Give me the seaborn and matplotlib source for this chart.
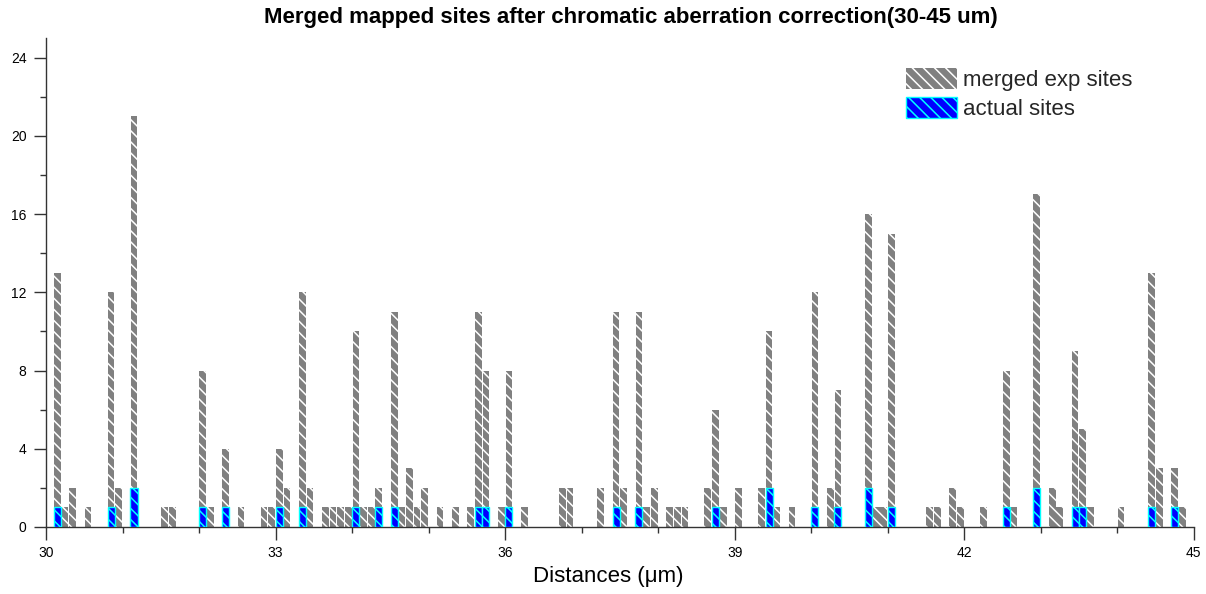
import numpy as np
import pandas as pd
import matplotlib
matplotlib.use("Agg")
import matplotlib.pyplot as plt
from matplotlib.patches import Patch
from matplotlib.ticker import MultipleLocator
import seaborn as sns

# ---- data (bin start in µm, bin width 0.1 µm) ----
bin_width = 0.1
merged_start = [30.1, 30.2, 30.3, 30.5, 30.8, 30.9, 31.1, 31.5, 31.6, 32.0,
                32.1, 32.3, 32.5, 32.8, 32.9, 33.0, 33.1, 33.3, 33.4, 33.6,
                33.7, 33.8, 33.9, 34.0, 34.1, 34.2, 34.3, 34.5, 34.6, 34.7,
                34.8, 34.9, 35.1, 35.3, 35.5, 35.6, 35.7, 35.9, 36.0, 36.2,
                36.7, 36.8, 37.2, 37.4, 37.5, 37.7, 37.8, 37.9, 38.1, 38.2,
                38.3, 38.6, 38.7, 38.8, 39.0, 39.3, 39.4, 39.5, 39.7, 40.0,
                40.2, 40.3, 40.7, 40.8, 40.9, 41.0, 41.5, 41.6, 41.8, 41.9,
                42.2, 42.5, 42.6, 42.9, 43.1, 43.2, 43.4, 43.5, 43.6, 44.0,
                44.4, 44.5, 44.7, 44.8]
merged_counts = [13, 1, 2, 1, 12, 2, 21, 1, 1, 8,
                 1, 4, 1, 1, 1, 4, 2, 12, 2, 1,
                 1, 1, 1, 10, 1, 1, 2, 11, 1, 3,
                 1, 2, 1, 1, 1, 11, 8, 1, 8, 1,
                 2, 2, 2, 11, 2, 11, 1, 2, 1, 1,
                 1, 2, 6, 1, 2, 2, 10, 1, 1, 12,
                 2, 7, 16, 1, 1, 15, 1, 1, 2, 1,
                 1, 8, 1, 17, 2, 1, 9, 5, 1, 1,
                 13, 3, 3, 1]
actual_start = [30.1, 30.8, 31.1, 32.0, 32.3, 33.0, 33.3, 34.0, 34.3, 34.5,
                35.6, 35.7, 36.0, 37.4, 37.7, 38.7, 39.4, 40.0, 40.3, 40.7,
                41.0, 42.5, 42.9, 43.4, 43.5, 44.4, 44.7]
actual_counts = [1, 1, 2, 1, 1, 1, 1, 1, 1, 1,
                 1, 1, 1, 1, 1, 1, 2, 1, 1, 2,
                 1, 1, 2, 1, 1, 1, 1]
x_major_ticks = [30, 33, 36, 39, 42, 45]
y_major_ticks = [0, 4, 8, 12, 16, 20, 24]
title_text = "Merged mapped sites after chromatic aberration correction(30-45 um)"
xlabel_text = "Distances (\u03bcm)"
legend_labels = ["merged exp sites", "actual sites"]

# ---- style ----
sns.set_style("ticks")
plt.rcParams['font.family'] = ['Liberation Sans', 'DejaVu Sans']
plt.rcParams['hatch.color'] = 'white'
plt.rcParams['hatch.linewidth'] = 1.1
HATCH = '\\\\\\'
GRAY = '#808080'
BLUE = '#0000FF'
CYAN = '#00FFFF'
AXC = '#333333'

W, H = 1206, 594
fig = plt.figure(figsize=(W / 100, H / 100), dpi=100)
x0, x1, ytop, ybot = 46, 1193.7, 38, 527
ax = fig.add_axes([x0 / W, 1 - ybot / H, (x1 - x0) / W, (ybot - ytop) / H])

merged_df = pd.DataFrame({"distance": np.round(np.array(merged_start) + bin_width / 2, 3),
                          "count": merged_counts})
actual_df = pd.DataFrame({"distance": np.round(np.array(actual_start) + bin_width / 2, 3),
                          "count": actual_counts})

sns.barplot(data=merged_df, x="distance", y="count", native_scale=True, width=0.88,
            color=GRAY, saturation=1, errorbar=None, ax=ax)
n_gray = len(ax.patches)
sns.barplot(data=actual_df, x="distance", y="count", native_scale=True, width=0.92,
            color=BLUE, saturation=1, errorbar=None, ax=ax)

for i, p in enumerate(ax.patches):
    p.set_hatch(HATCH)
    if i < n_gray:
        p.set_facecolor(GRAY)
        p.set_edgecolor('white')
        p.set_linewidth(0)
    else:
        p.set_facecolor(BLUE)
        p.set_edgecolor(CYAN)
        p.set_linewidth(1.0)
        p.set_zorder(3)

ax.set_xlim(30, 45)
ax.set_ylim(0, 25)
ax.set_xticks(x_major_ticks)
ax.set_xticklabels([str(t) for t in x_major_ticks])
ax.xaxis.set_minor_locator(MultipleLocator(1))
ax.set_yticks(y_major_ticks)
ax.set_yticklabels([str(t) for t in y_major_ticks])
ax.yaxis.set_minor_locator(MultipleLocator(2))
ax.tick_params(which='major', direction='out', length=9, width=1, color=AXC,
               labelsize=10, pad=5, labelcolor='black')
ax.tick_params(which='minor', direction='out', length=4.5, width=1, color=AXC)
ax.grid(False)
for s in ['top', 'right']:
    ax.spines[s].set_visible(False)
for s in ['left', 'bottom']:
    ax.spines[s].set_color(AXC)
    ax.spines[s].set_linewidth(1)

ax.set_ylabel('')
ax.set_xlabel(xlabel_text, fontsize=16, color='black')
ax.xaxis.set_label_coords((608 - x0) / (x1 - x0), -(566 - ybot) / (ybot - ytop))
ax.xaxis.label.set_va('top')

fig.text(631 / W, 1 - 17 / H, title_text, ha='center', va='center',
         fontsize=16, fontweight='bold', color='black')

handles = [Patch(facecolor=GRAY, edgecolor='white', linewidth=0, hatch=HATCH),
           Patch(facecolor=BLUE, edgecolor=CYAN, linewidth=1.0, hatch=HATCH)]
fig.legend(handles, legend_labels, loc='upper left',
           bbox_to_anchor=(906 / W, 1 - 68 / H), bbox_transform=fig.transFigure,
           frameon=False, fontsize=16, borderpad=0, borderaxespad=0,
           handlelength=2.3, handleheight=1.05, handletextpad=0.25,
           labelspacing=0.27)

fig.savefig("out.png", dpi=100)
